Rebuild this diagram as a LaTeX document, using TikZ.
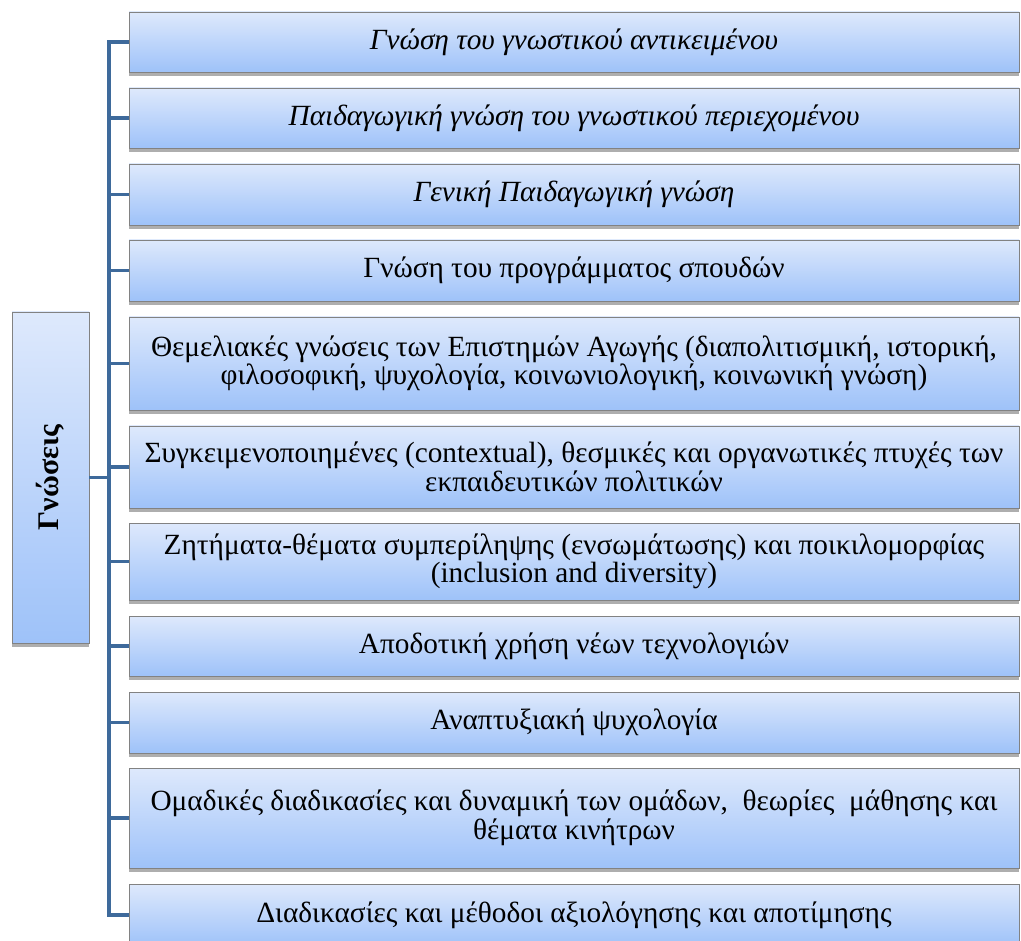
\documentclass[tikz,border=0pt]{standalone}
\usepackage{fontspec}
\setmainfont{Liberation Serif}
\usetikzlibrary{shadows}
\definecolor{boxtop}{RGB}{222,233,252}
\definecolor{boxbot}{RGB}{158,194,249}
\definecolor{boxborder}{RGB}{130,130,130}
\definecolor{connblue}{RGB}{62,106,155}
\begin{document}
\begin{tikzpicture}[x=1pt,y=-1pt,
  box/.style={draw=boxborder, line width=0.8pt, top color=boxtop, bottom color=boxbot,
    minimum width=890pt, inner sep=0pt, align=center,
    font=\fontsize{29.3}{28.5}\selectfont, text=black,
    drop shadow={shadow xshift=0pt, shadow yshift=-4pt, opacity=0.45, fill=black!70}},
  gbox/.style={box, minimum width=77pt, minimum height=331pt, font=\fontsize{30}{32}\selectfont},
  conn/.style={draw=connblue, line width=3.5pt}]
\useasboundingbox (0,0) rectangle (1021,941);
\clip (0,0) rectangle (1021,941);
\coordinate (spine) at (109,0);
\node[gbox] (g) at (50.5,477.5) {\rotatebox{90}{\bfseries Γνώσεις}};
\node[box, minimum height=60pt] (b1) at (574,42) {\itshape Γνώση του γνωστικού αντικειμένου};
\node[box, minimum height=60pt] (b2) at (574,118) {\itshape Παιδαγωγική γνώση του γνωστικού περιεχομένου};
\node[box, minimum height=61pt] (b3) at (574,194.5) {\itshape Γενική Παιδαγωγική γνώση};
\node[box, minimum height=61pt] (b4) at (574,270.5) {Γνώση του προγράμματος σπουδών};
\node[box, minimum height=93pt] (b5) at (574,363.5) {Θεμελιακές γνώσεις των Επιστημών Αγωγής (διαπολιτισμική, ιστορική,\\ φιλοσοφική, ψυχολογία, κοινωνιολογική, κοινωνική γνώση)};
\node[box, minimum height=82pt] (b6) at (574,467) {Συγκειμενοποιημένες (contextual), θεσμικές και οργανωτικές πτυχές των\\ εκπαιδευτικών πολιτικών};
\node[box, minimum height=77pt] (b7) at (574,561.5) {Ζητήματα-θέματα συμπερίληψης (ενσωμάτωσης) και ποικιλομορφίας\\ (inclusion and diversity)};
\node[box, minimum height=60pt] (b8) at (574,646) {Αποδοτική χρήση νέων τεχνολογιών};
\node[box, minimum height=61pt] (b9) at (574,722.5) {Αναπτυξιακή ψυχολογία};
\node[box, minimum height=100pt] (b10) at (574,818) {Ομαδικές διαδικασίες και δυναμική των ομάδων,\ \ θεωρίες\ \ μάθησης και\\ θέματα κινήτρων};
\node[box, minimum height=62pt] (b11) at (574,915) {Διαδικασίες και μέθοδοι αξιολόγησης και αποτίμησης};
\draw[conn] (b1.west) -- (b1.west -| spine) -- (b11.west -| spine) -- (b11.west);
\foreach \i in {2,...,10} {\draw[conn] (b\i.west) -- (b\i.west -| spine);}
\draw[conn] (g.east) -- (g.east -| spine);
\end{tikzpicture}
\end{document}
